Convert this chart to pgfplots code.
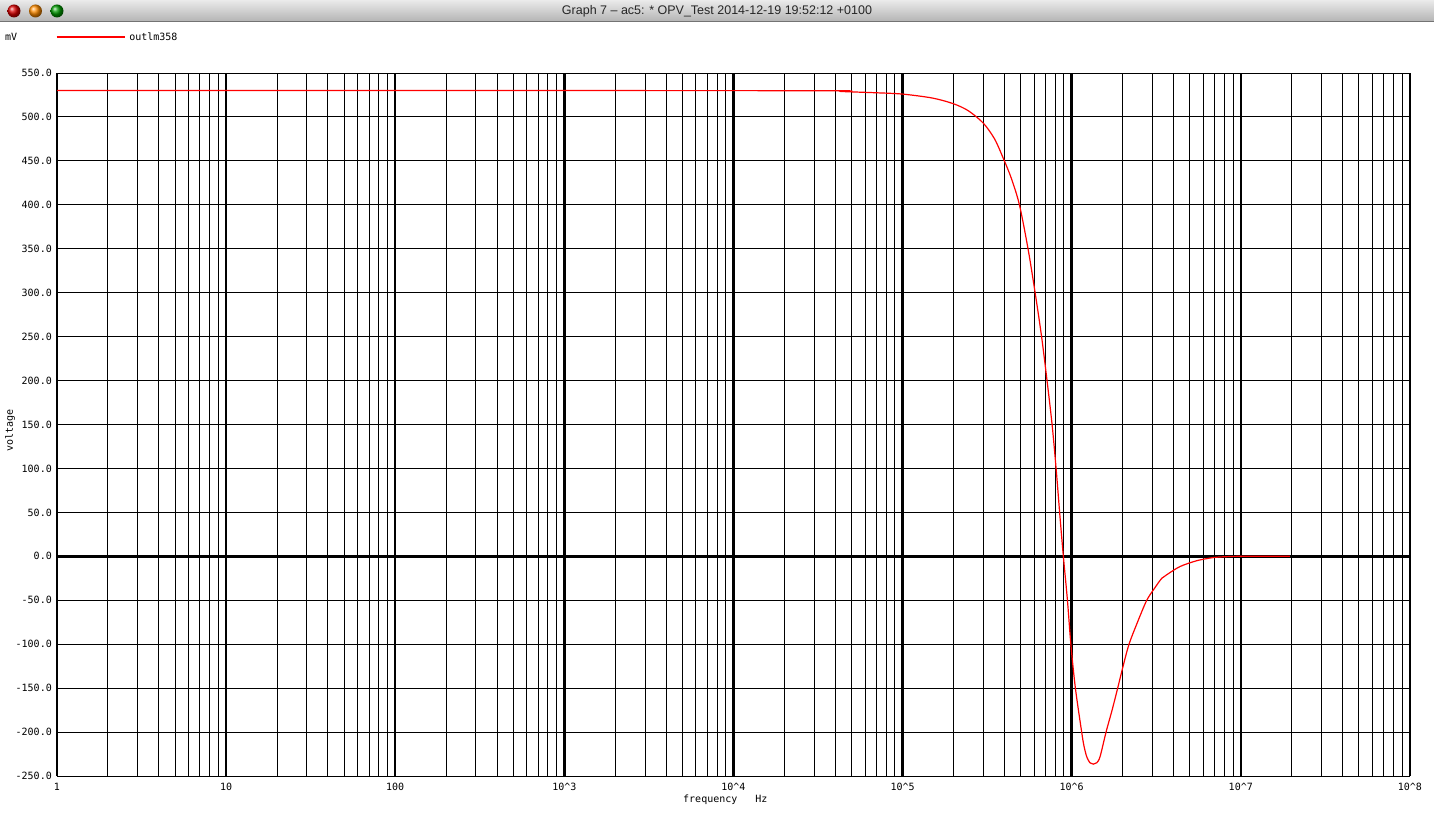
\documentclass[border=0pt]{standalone}
\usepackage{pgfplots}
\pgfplotsset{compat=1.18}
\usepackage{fontspec}
\setmainfont{DejaVu Sans Mono}
\newfontfamily\titlefont{Liberation Sans}
\begin{document}
\begin{tikzpicture}
\path[use as bounding box] (0pt,0pt) rectangle (1434pt,812pt);
% window title bar
\shade[top color=black!8, bottom color=black!30] (0pt,790pt) rectangle (1434pt,812pt);
\draw[black!55, line width=1pt] (0pt,790.5pt) -- (1434pt,790.5pt);
\shade[ball color=red!85!black] (14pt,801pt) circle (6.5pt);
\shade[ball color=orange!90!yellow] (35.5pt,801pt) circle (6.5pt);
\shade[ball color=green!60!black] (57pt,801pt) circle (6.5pt);
\node[font=\titlefont\fontsize{12.5}{14}\selectfont, text=black!85] at (717pt,800.5pt) {Graph 7 – ac5: * OPV\_Test 2014-12-19 19:52:12 +0100};
\node[anchor=west, inner sep=0pt, font=\fontsize{10}{12}\selectfont] at (5pt,775pt) {mV};
\begin{axis}[
  at={(57pt,36pt)}, anchor=south west,
  scale only axis, width=1353pt, height=703pt,
  xmode=log, log basis x=10,
  xmin=1, xmax=1e8, ymin=-250, ymax=550,
  xtick={1,10,100,1000,10000,100000,1000000,10000000,100000000},
  minor xtick={2,3,4,5,6,7,8,9,
    20,30,40,50,60,70,80,90,
    200,300,400,500,600,700,800,900,
    2000,3000,4000,5000,6000,7000,8000,9000,
    20000,30000,40000,50000,60000,70000,80000,90000,
    200000,300000,400000,500000,600000,700000,800000,900000,
    2000000,3000000,4000000,5000000,6000000,7000000,8000000,9000000,
    20000000,30000000,40000000,50000000,60000000,70000000,80000000,90000000},
  xticklabels={1,10,100,10\textasciicircum 3,10\textasciicircum 4,10\textasciicircum 5,10\textasciicircum 6,10\textasciicircum 7,10\textasciicircum 8},
  ytick={-250,-200,-150,-100,-50,0,50,100,150,200,250,300,350,400,450,500,550},
  yticklabels={-250.0,-200.0,-150.0,-100.0,-50.0,0.0,50.0,100.0,150.0,200.0,250.0,300.0,350.0,400.0,450.0,500.0,550.0},
  ticklabel style={font=\fontsize{10}{12}\selectfont},
  xticklabel style={anchor=center, yshift=-11pt},
  yticklabel style={anchor=east, inner sep=0pt, xshift=-5pt},
  major tick length=0pt, minor tick length=0pt,
  xmajorgrids=true, xminorgrids=true, ymajorgrids=true,
  major x grid style={black, line width=2.4pt},
  minor x grid style={black, line width=1pt},
  major y grid style={black, line width=1pt},
  axis line style={black, line width=1pt},
  xlabel={frequency\ \ \ Hz},
  ylabel={voltage},
  label style={font=\fontsize{10}{12}\selectfont},
  xlabel style={at={(rel axis cs:0.494,-0.0341)}, anchor=center},
  ylabel style={at={(rel axis cs:-0.0347,0.492)}, anchor=center},
  legend style={at={(rel axis cs:-0.0007,1.0512)}, anchor=west, draw=none, fill=none,
    inner sep=0pt, outer sep=0pt, font=\fontsize{10}{12}\selectfont,
    nodes={inner sep=0pt}, column sep=4pt},
  legend image code/.code={\draw[#1] (0pt,0pt) -- (68pt,0pt);},
]
\addplot[black, line width=2.4pt, forget plot] coordinates {(1,0) (1e8,0)};
\addplot[red, line width=1.2pt, smooth, tension=0.5] coordinates {
(1,530) (1000,530) (40000,529.8) (43000,529) (70000,527.5) (100000,526)
(150000,521.5) (200000,515) (245000,507) (300000,493) (350000,475)
(394000,453) (440000,430) (491000,400) (552000,350) (608000,300)
(664000,250) (715000,200) (766000,150) (809000,100) (853000,45)
(893000,0) (944000,-50) (989000,-100) (1052000,-150) (1146000,-200)
(1180000,-215) (1227000,-228) (1283000,-235) (1343000,-236.5) (1406000,-235)
(1472000,-228) (1597000,-200) (1734000,-175) (1871000,-150) (2014000,-125)
(2184000,-100) (2450000,-75) (2780000,-50) (3100000,-36) (3410000,-25)
(3648000,-21) (4375000,-11.6) (5495000,-5)
(6887000,-1.4) (8450000,-0.3) (10000000,0) (19500000,0)
};
\addlegendentry{outlm358}
\end{axis}
\end{tikzpicture}
\end{document}
